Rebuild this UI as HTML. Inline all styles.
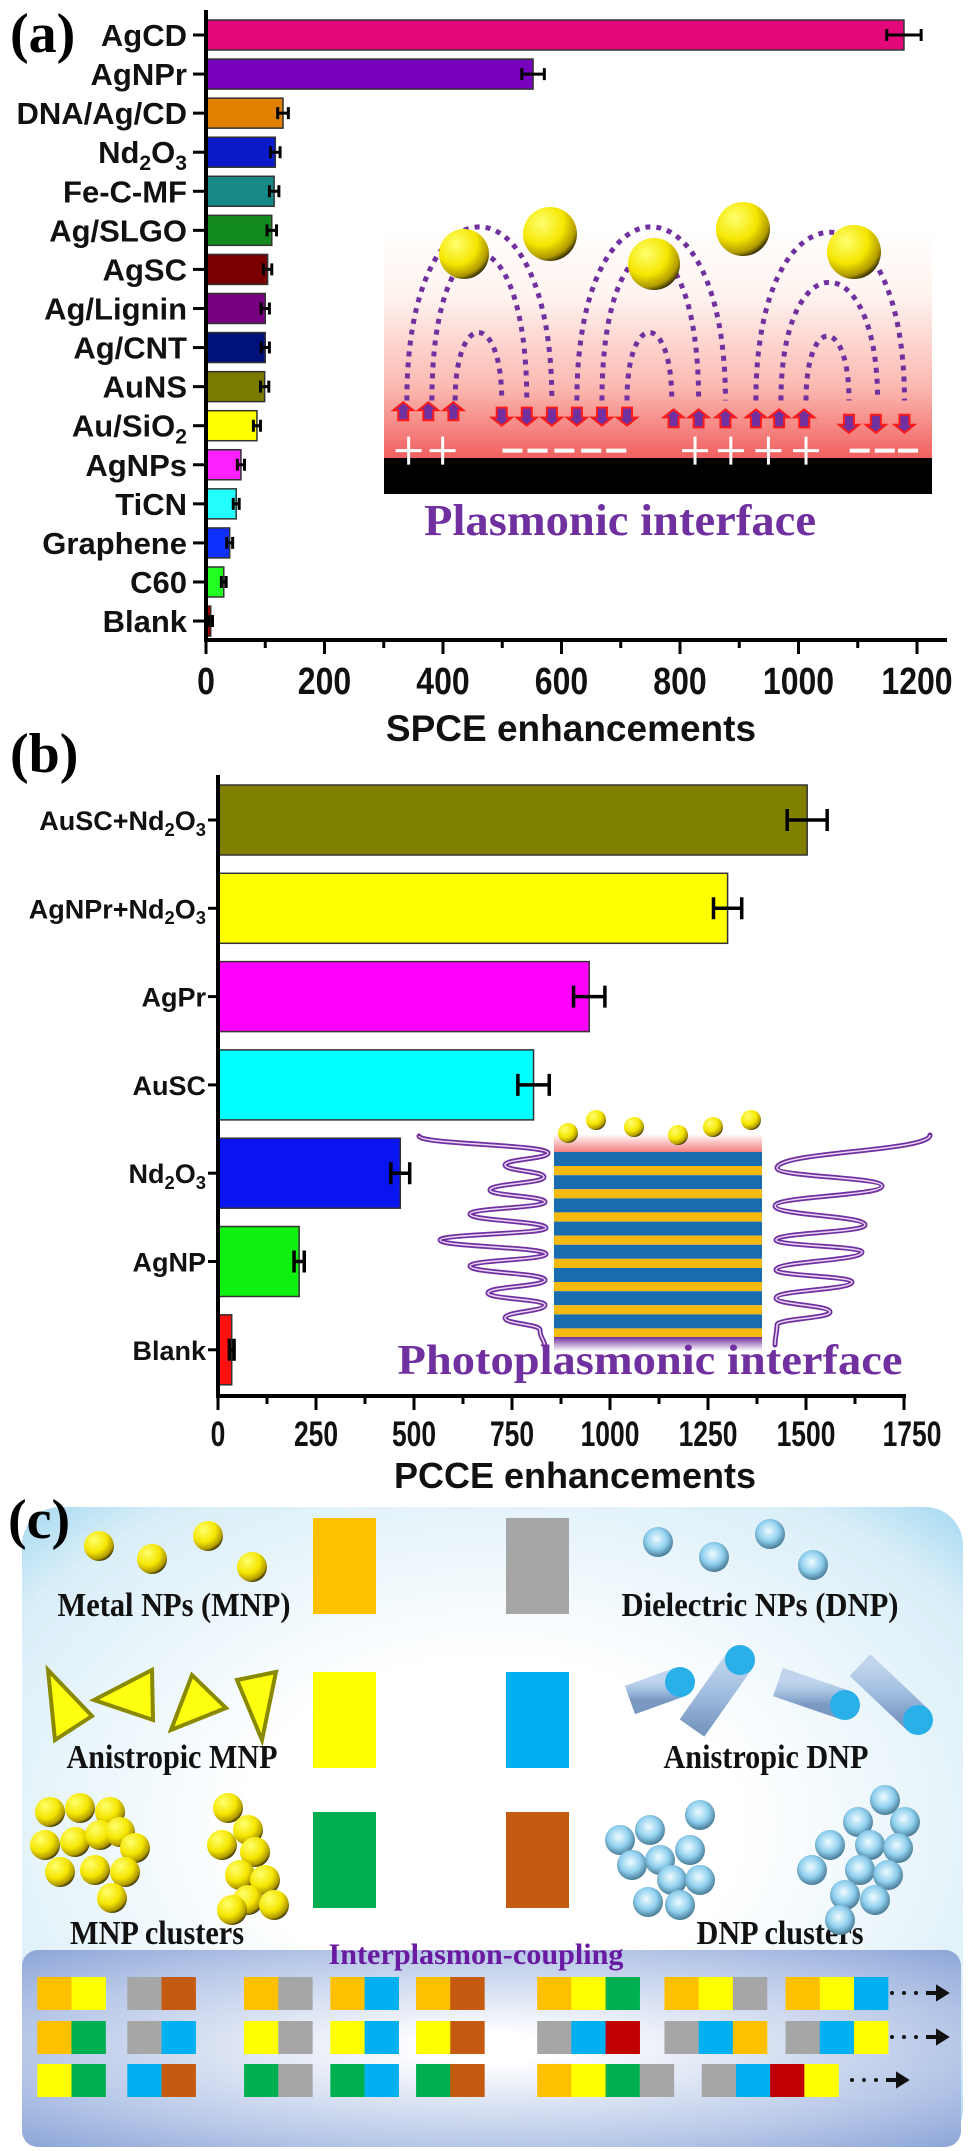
<!DOCTYPE html>
<html><head><meta charset="utf-8"><style>
html,body{margin:0;padding:0;background:#fff;}
svg{display:block;}
.lab{font-family:"Liberation Sans",sans-serif;font-weight:bold;fill:#111;}
.ser{font-family:"Liberation Serif",serif;font-weight:bold;}
</style></head><body>
<svg id="fig" width="971" height="2151" viewBox="0 0 971 2151" xmlns="http://www.w3.org/2000/svg">
<defs>
<radialGradient id="gold" cx="0.35" cy="0.3" r="0.75"><stop offset="0" stop-color="#ffff70"/><stop offset="0.55" stop-color="#f5e600"/><stop offset="0.85" stop-color="#b09a00"/><stop offset="1" stop-color="#2a2400"/></radialGradient>
<radialGradient id="blueball" cx="0.45" cy="0.4" r="0.7"><stop offset="0" stop-color="#f0fbff"/><stop offset="0.5" stop-color="#8fd0ee"/><stop offset="0.85" stop-color="#4a7d98"/><stop offset="1" stop-color="#0e1e2a"/></radialGradient>
<linearGradient id="plasBg" x1="0" y1="0" x2="0" y2="1"><stop offset="0" stop-color="#ffffff"/><stop offset="0.3" stop-color="#fff4f0"/><stop offset="0.7" stop-color="#fbb8b0"/><stop offset="1" stop-color="#f06060"/></linearGradient>
<linearGradient id="pinkTop" x1="0" y1="0" x2="0" y2="1"><stop offset="0" stop-color="#fff"/><stop offset="1" stop-color="#f48080"/></linearGradient>
<linearGradient id="purpBot" x1="0" y1="0" x2="0" y2="1"><stop offset="0" stop-color="#7030a0"/><stop offset="1" stop-color="#fff"/></linearGradient>
<radialGradient id="boxBg" cx="0.5" cy="0.5" r="0.75"><stop offset="0.35" stop-color="#ffffff"/><stop offset="0.8" stop-color="#d9eef8"/><stop offset="1" stop-color="#8fd0ee"/></radialGradient>
<radialGradient id="ipBg" cx="0.5" cy="0.5" r="0.7"><stop offset="0.1" stop-color="#ffffff"/><stop offset="0.7" stop-color="#b8c8e8"/><stop offset="1" stop-color="#8ea6d8"/></radialGradient>
<linearGradient id="cyl" x1="0" y1="0" x2="0" y2="1"><stop offset="0" stop-color="#e8f4ff"/><stop offset="0.5" stop-color="#a8c4e4"/><stop offset="1" stop-color="#5878a8"/></linearGradient>
</defs>

<text class="ser" x="10" y="52" font-size="56">(a)</text>
<g id="plasInset"></g>
<g id="chartA"></g>
<text class="lab" x="571" y="741" font-size="37" text-anchor="middle">SPCE enhancements</text>

<text class="ser" x="10" y="772" font-size="56">(b)</text>
<g id="chartB"></g>
<g id="photoInset"></g>
<text class="ser" x="650" y="1374" font-size="42" fill="#7030a0" text-anchor="middle" textLength="505" lengthAdjust="spacingAndGlyphs">Photoplasmonic interface</text>
<text class="lab" x="575" y="1488" font-size="36" text-anchor="middle">PCCE enhancements</text>

<rect x="22" y="1507" width="941" height="640" rx="38" fill="url(#boxBg)"/>
<text class="ser" x="8" y="1538" font-size="56">(c)</text>
<g id="panelC"></g>
</svg>

<script>
// ---------- data: panel (a) ----------
const catsA = ["AgCD","AgNPr","DNA/Ag/CD","Nd2O3","Fe-C-MF","Ag/SLGO","AgSC","Ag/Lignin","Ag/CNT","AuNS","Au/SiO2","AgNPs","TiCN","Graphene","C60","Blank"];
const valsA = [1178,552,130,117,115,111,104,100,100,99,86,59,51,40,30,8];
const errsA = [29,19,9,8,8,8,7,7,7,7,6,6,5,5,4,3];
const colorsA = ["#e2087a","#7a00bf","#e08000","#0a1ac8","#178888","#138a1e","#7a0000","#760080","#00107a","#7a7a00","#ffff00","#ff20ff","#22ffff","#1030ff","#22ff22","#a00000"];
const ticksA = [0,200,400,600,800,1000,1200];
// ---------- data: panel (b) ----------
const catsB = ["AuSC+Nd2O3","AgNPr+Nd2O3","AgPr","AuSC","Nd2O3","AgNP","Blank"];
const valsB = [1503,1300,947,805,465,207,35];
const errsB = [51,36,40,40,24,13,6];
const colorsB = ["#808000","#ffff00","#ff00ff","#00ffff","#0a14f0","#10f010","#ff1010"];
const ticksB = [0,250,500,750,1000,1250,1500,1750];

const NS="http://www.w3.org/2000/svg";
function mk(tag, attrs, parent){const e=document.createElementNS(NS,tag);for(const k in attrs)e.setAttribute(k,attrs[k]);if(parent)parent.appendChild(e);return e;}
function labelText(parent,x,y,size,str,anchor){
  const t=mk('text',{x:x,y:y,'font-size':size,'text-anchor':anchor||'end',class:'lab'},parent);
  const m=str.match(/^(.*)Nd2O3$/);
  if(m){ t.appendChild(document.createTextNode(m[1]+'Nd'));
    const s1=mk('tspan',{'font-size':size*0.68,dy:size*0.22},t);s1.textContent='2';
    const s2=mk('tspan',{'font-size':size,dy:-size*0.22},t);s2.textContent='O';
    const s3=mk('tspan',{'font-size':size*0.68,dy:size*0.22},t);s3.textContent='3';
  } else if(str==='Au/SiO2'){ t.appendChild(document.createTextNode('Au/SiO'));
    const s1=mk('tspan',{'font-size':size*0.68,dy:size*0.22},t);s1.textContent='2';
  } else t.textContent=str;
  return t;
}

(function(){
  const g=document.getElementById('chartA');
  const x0=206, x1200=917, xA=v=>x0+(v/1200)*(x1200-x0);
  const yTop=35, step=39.07, bh=30, axisY=640;
  const yA=i=>yTop+i*step;
  catsA.forEach((c,i)=>{
    const yc=yA(i);
    const bar=mk('rect',{x:xA(0),y:yc-bh/2,width:Math.max(1,xA(valsA[i])-xA(0)),height:bh,fill:colorsA[i],stroke:'#333','stroke-width':1.5},g);
    
    
    const e1=xA(valsA[i]-errsA[i]), e2=xA(valsA[i]+errsA[i]);
    const eb=mk('path',{d:`M${e1},${yc}H${e2}M${e1},${yc-6}V${yc+6}M${e2},${yc-6}V${yc+6}`,stroke:'#000','stroke-width':3,fill:'none'},g);
    
    
    mk('line',{x1:x0-13,x2:x0,y1:yc,y2:yc,stroke:'#000','stroke-width':3},g);
    const t=labelText(g,187,yc+11,31,c);
    
    
  });
  const ax=mk('path',{d:`M${x0},${10}V${axisY}H947`,stroke:'#000','stroke-width':4,fill:'none'},g);
  
  
  for(let v=0;v<=1250;v+=100){
    const major=(v%200===0);
    mk('line',{x1:xA(v),x2:xA(v),y1:axisY,y2:axisY+(major?14:8),stroke:'#000','stroke-width':3},g);
  }
  ticksA.forEach(v=>{
    const s=String(v);
    const t=mk('text',{x:xA(v),y:axisY+54,'font-size':38,'text-anchor':'middle',class:'lab',textLength:s.length*17.8,lengthAdjust:'spacingAndGlyphs'},g);
    t.textContent=s;
    
    
  });
})();

(function(){
  const g=document.getElementById('chartB');
  const x0=218, x1750=904, xB=v=>x0+(v/1750)*(x1750-x0);
  const yTop=820, step=88.3, bh=70, axisY=1396;
  catsB.forEach((c,i)=>{
    const yc=yTop+i*step;
    const bar=mk('rect',{x:xB(0),y:yc-bh/2,width:xB(valsB[i])-xB(0),height:bh,fill:colorsB[i],stroke:'#333','stroke-width':1.5},g);
    
    
    const e1=xB(valsB[i]-errsB[i]), e2=xB(valsB[i]+errsB[i]);
    const eb=mk('path',{d:`M${e1},${yc}H${e2}M${e1},${yc-11}V${yc+11}M${e2},${yc-11}V${yc+11}`,stroke:'#000','stroke-width':3.5,fill:'none'},g);
    
    
    mk('line',{x1:x0-10,x2:x0,y1:yc,y2:yc,stroke:'#000','stroke-width':3},g);
    const t=labelText(g,206,yc+10,27,c);
    
    
  });
  const ax=mk('path',{d:`M${x0},${775}V${axisY}H${x1750+2}`,stroke:'#000','stroke-width':4,fill:'none'},g);
  
  
  for(let v=0;v<=1750;v+=125){
    const major=(v%250===0);
    mk('line',{x1:xB(v),x2:xB(v),y1:axisY,y2:axisY+(major?14:8),stroke:'#000','stroke-width':3},g);
  }
  ticksB.forEach(v=>{
    const s=String(v);
    const t=mk('text',{x:xB(v)+(v===1750?8:0),y:axisY+50,'font-size':35,'text-anchor':'middle',class:'lab',textLength:s.length*14.7,lengthAdjust:'spacingAndGlyphs'},g);
    t.textContent=s;
    
    
  });
})();

(function(){
  const g=document.getElementById('plasInset');
  const X=p=>380+p*0.358, Y=p=>200+p*0.358;
  mk('rect',{x:384,y:225,width:548,height:233,fill:'url(#plasBg)'},g);
  mk('rect',{x:384,y:458,width:548,height:36,fill:'#000'},g);
  const arches=[[75,480,75],[145,410,150],[210,340,370],[550,965,75],[620,890,150],[690,815,370],[1050,1465,90],[1120,1390,230],[1190,1310,380]];
  const footY=560;
  arches.forEach(a=>{
    const yF=Y(footY), yP=Y(a[2]), yc=(4*yP-yF)/3;
    mk('path',{d:`M${X(a[0])},${yF} C${X(a[0])},${yc} ${X(a[1])},${yc} ${X(a[1])},${yF}`,fill:'none',stroke:'#7030a0','stroke-width':5,'stroke-dasharray':'5 6'},g);
  });
  const balls=[[464,254,25],[550,234,27],[654,264,26],[743,229,27],[854,252,27]];
  balls.forEach(b=>mk('circle',{cx:b[0],cy:b[1],r:b[2],fill:'url(#gold)'},g));
  function arrow(px,py,up){
    const x=X(px), y=Y(py), w=10, h=18;
    let d = up ? `M${x},${y} L${x+w},${y+8} H${x+5} V${y+h} H${x-5} V${y+8} H${x-w} Z`
               : `M${x},${y+h} L${x+w},${y+h-8} H${x+5} V${y} H${x-5} V${y+h-8} H${x-w} Z`;
    mk('path',{d:d,fill:'#7030a0',stroke:'#ff1a1a','stroke-width':2},g);
  }
  [65,135,205].forEach(p=>arrow(p,565,true));
  [340,410,480,550,620,690].forEach(p=>arrow(p,580,false));
  [820,890,965,1050,1115,1185].forEach(p=>arrow(p,585,true));
  [1310,1385,1465].forEach(p=>arrow(p,600,false));
  [80,175,880,980,1085,1190].forEach(p=>{const x=X(p),y=Y(700);mk('path',{d:`M${x-13},${y}H${x+13}M${x},${y-14}V${y+14}`,stroke:'#fff','stroke-width':3},g);});
  [370,440,515,590,660,1340,1410,1475].forEach(p=>{const x=X(p),y=Y(700);mk('path',{d:`M${x-10},${y}H${x+10}`,stroke:'#fff','stroke-width':4},g);});
  const t=mk('text',{x:620,y:535,'font-size':44,fill:'#7030a0',class:'ser','text-anchor':'middle',textLength:392,lengthAdjust:'spacingAndGlyphs'},g);
  t.textContent='Plasmonic interface';
  
  
})();

(function(){
  const g=document.getElementById('photoInset');
  mk('rect',{x:554,y:1134,width:208,height:18,fill:'url(#pinkTop)'},g);
  for(let i=0;i<8;i++){
    mk('rect',{x:554,y:1152+i*23.2,width:208,height:14,fill:'#1a6cb0'},g);
    mk('rect',{x:554,y:1166+i*23.2,width:208,height:9.2,fill:'#f5b90f'},g);
  }
  mk('rect',{x:554,y:1337,width:208,height:14,fill:'url(#purpBot)'},g);
  [[568,1133],[596,1120],[634,1127],[678,1135],[713,1127],[751,1120]].forEach(b=>mk('circle',{cx:b[0],cy:b[1],r:10,fill:'url(#gold)'},g));
  const L=[[419,1136],[548,1153],[505,1165],[544,1177],[490,1190],[545,1202],[470,1214],[546,1228],[440,1240],[546,1254],[470,1266],[545,1280],[488,1293],[545,1305],[505,1318],[540,1330],[545,1348]];
  const R=[[930,1135],[777,1168],[882,1186],[775,1206],[865,1225],[776,1240],[862,1252],[776,1270],[852,1282],[776,1298],[830,1312],[777,1325],[775,1345]];
  [L,R].forEach(P=>{
    let d='M'+P[0].join(',');
    for(let i=1;i<P.length;i++){const p=P[i-1],q=P[i];const my=(p[1]+q[1])/2;d+=` C${p[0]},${my} ${q[0]},${my} ${q[0]},${q[1]}`;}
    mk('path',{d:d,fill:'none',stroke:'#7030a0','stroke-width':5,'stroke-linecap':'round'},g);
    mk('path',{d:d,fill:'none',stroke:'#e8d8f4','stroke-width':1.5},g);
  });
})();

(function(){
  const g=document.getElementById('panelC');
  const C={o:'#ffc000',y:'#ffff00',g:'#a6a6a6',b:'#00b0f0',G:'#00b050',r:'#c55a11',R:'#c00000'};
  [[313,1518,'o'],[506,1518,'g'],[313,1672,'y'],[506,1672,'b'],[313,1812,'G'],[506,1812,'r']].forEach(s=>{
    const r=mk('rect',{x:s[0],y:s[1],width:63,height:96,fill:C[s[2]]},g);
    
    
  });
  const labs=[['Metal NPs (MNP)',174,1616,233],['Dielectric NPs (DNP)',760,1616,277],['Anistropic MNP',172,1768,211],['Anistropic DNP',766,1768,205],['MNP clusters',157,1944,174],['DNP clusters',780,1944,167]];
  labs.forEach(l=>{
    const t=mk('text',{x:l[1],y:l[2],'font-size':34,class:'ser','text-anchor':'middle',fill:'#111',textLength:l[3],lengthAdjust:'spacingAndGlyphs'},g);
    t.textContent=l[0];
    
    
  });
  [[99,1546],[152,1559],[208,1536],[252,1567]].forEach(p=>mk('circle',{cx:p[0],cy:p[1],r:15,fill:'url(#gold)'},g));
  [[658,1542],[714,1557],[770,1534],[813,1565]].forEach(p=>mk('circle',{cx:p[0],cy:p[1],r:15,fill:'url(#blueball)'},g));
  [["48,1670 92,1716 55,1740"],["94,1700 152,1670 153,1720"],["171,1730 192,1675 226,1708"],["237,1680 276,1672 262,1740"]].forEach(p=>mk('polygon',{points:p[0],fill:'#ffff10',stroke:'#8a8a00','stroke-width':4},g));
  [[630,1700,680,1682],[692,1728,740,1660],[778,1682,845,1705],[860,1665,918,1720]].forEach(c=>{
    mk('line',{x1:c[0],y1:c[1],x2:c[2],y2:c[3],stroke:'url(#cyl)','stroke-width':30,'stroke-linecap':'butt'},g);
    mk('line',{x1:c[0],y1:c[1],x2:c[2],y2:c[3],stroke:'#9ab8dc','stroke-width':30,opacity:0.5},g);
    mk('circle',{cx:c[2],cy:c[3],r:15,fill:'#2ab0e8'},g);
  });
  const mc=[[50,1812],[80,1808],[110,1812],[45,1845],[75,1842],[100,1835],[120,1832],[135,1848],[60,1872],[95,1870],[125,1872],[112,1898],[228,1808],[248,1830],[222,1845],[255,1852],[240,1875],[265,1880],[248,1900],[274,1905],[232,1910]];
  mc.forEach(p=>mk('circle',{cx:p[0],cy:p[1],r:15,fill:'url(#gold)'},g));
  const dc=[[620,1840],[650,1830],[700,1815],[632,1865],[660,1860],[690,1850],[672,1880],[700,1880],[648,1902],[680,1905],[812,1870],[830,1845],[858,1822],[885,1800],[905,1822],[870,1845],[898,1848],[860,1870],[888,1875],[845,1895],[875,1900],[840,1920]];
  dc.forEach(p=>mk('circle',{cx:p[0],cy:p[1],r:15,fill:'url(#blueball)'},g));
  const ib=mk('rect',{x:22,y:1950,width:939,height:197,rx:16,fill:'url(#ipBg)'},g);
  
  
  const it=mk('text',{x:476,y:1964,'font-size':30,class:'ser','text-anchor':'middle',fill:'#6a1aa0',textLength:295,lengthAdjust:'spacingAndGlyphs'},g);
  it.textContent='Interplasmon-coupling';
  
  
  const rows=[
    [[60,'oy'],[205,'gr'],[393,'og'],[532,'ob'],[670,'or'],[865,'oyG'],[1070,'oyg'],[1265,'oyb']],
    [[60,'oG'],[205,'gb'],[393,'yg'],[532,'yb'],[670,'yr'],[865,'gbR'],[1070,'gbo'],[1265,'gby']],
    [[60,'yG'],[205,'br'],[393,'Gg'],[532,'Gb'],[670,'Gr'],[865,'oyGg'],[1130,'gbRy']]
  ];
  const rowY=[1977,2021,2064];
  rows.forEach((row,ri)=>{
    row.forEach(grp=>{
      for(let k=0;k<grp[1].length;k++){
        mk('rect',{x:grp[0]*0.621+k*34.2,y:rowY[ri],width:34.4,height:33,fill:C[grp[1][k]]},g);
      }
    });
  });
  [[892,1993],[892,2037],[852,2080]].forEach(a=>{
    const x=a[0],y=a[1];
    for(let k=0;k<3;k++) mk('circle',{cx:x+k*12,cy:y,r:2,fill:'#111'},g);
    mk('path',{d:`M${x+34},${y}H${x+52}M${x+46},${y-5}L${x+54},${y}L${x+46},${y+5}Z`,stroke:'#111','stroke-width':4,fill:'#111'},g);
  });
})();
</script>
</body></html>
